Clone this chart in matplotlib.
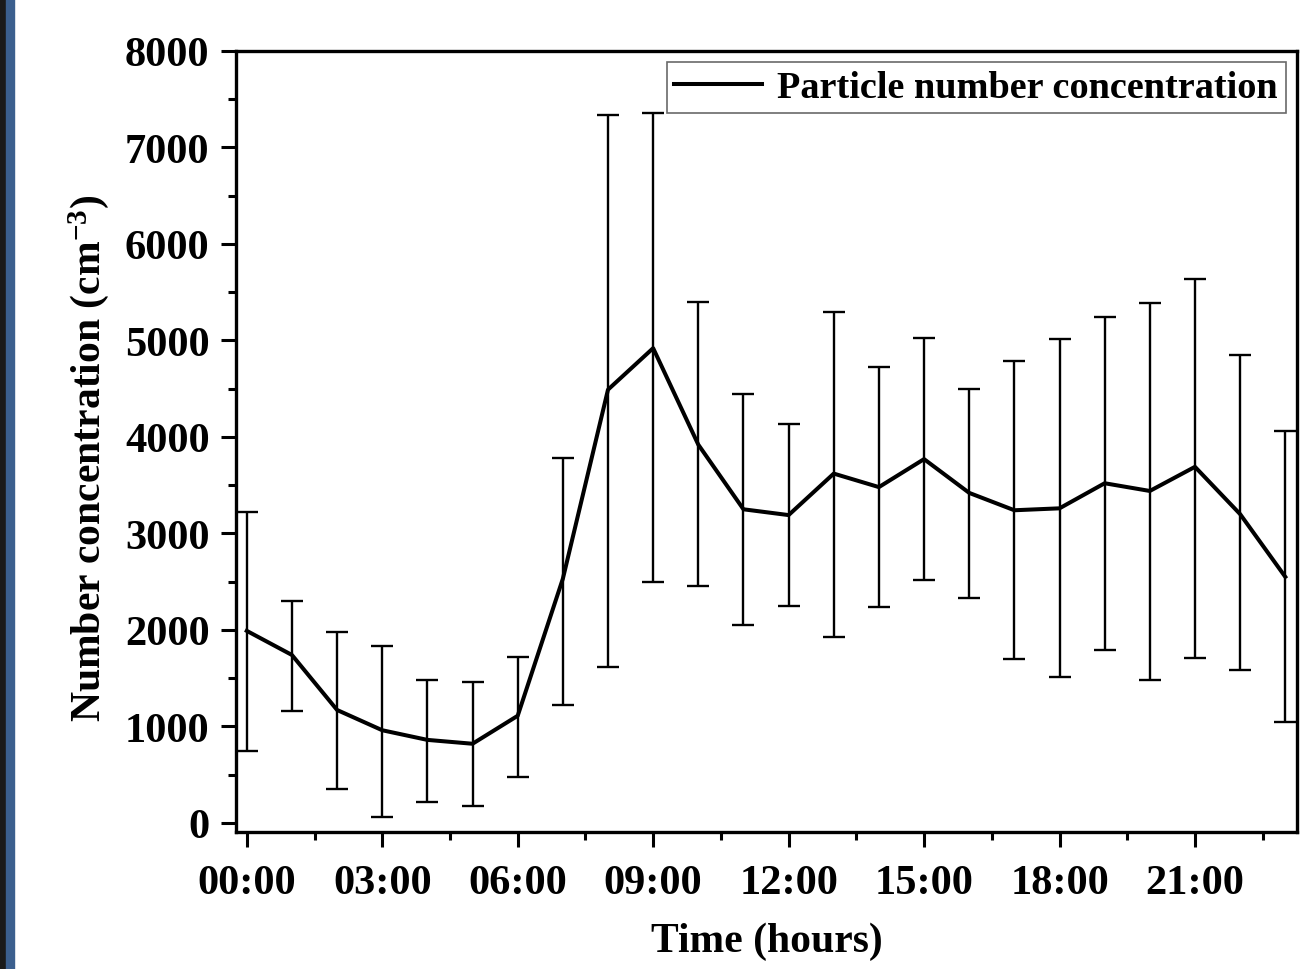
import matplotlib
matplotlib.use("Agg")
from matplotlib import pyplot as plt
from matplotlib.patches import Rectangle
from matplotlib.lines import Line2D
from matplotlib.ticker import MultipleLocator

import numpy as np

plt.rcParams['font.family'] = ['Liberation Serif', 'DejaVu Serif']
plt.rcParams['font.weight'] = 'bold'
plt.rcParams['mathtext.fontset'] = 'custom'
plt.rcParams['mathtext.default'] = 'bf'
plt.rcParams['mathtext.bf'] = 'Liberation Serif:bold'
plt.rcParams['mathtext.rm'] = 'Liberation Serif:bold'

# data (hourly means with lower / upper error bar ends)
hours = list(range(24))
mean = [1990, 1740, 1170, 960, 860, 820, 1110, 2530, 4490, 4920, 3920, 3250,
        3190, 3620, 3480, 3770, 3420, 3240, 3260, 3520, 3440, 3690, 3200, 2550]
upper = [3220, 2300, 1980, 1830, 1480, 1460, 1720, 3780, 7340, 7360, 5400, 4450,
         4130, 5300, 4720, 5030, 4500, 4790, 5010, 5240, 5390, 5640, 4850, 4060]
lower = [746, 1160, 350, 60, 220, 175, 480, 1220, 1620, 2500, 2450, 2050,
         2250, 1930, 2240, 2520, 2330, 1700, 1510, 1790, 1480, 1710, 1580, 1050]
xtick_pos = [0, 3, 6, 9, 12, 15, 18, 21]
xtick_labels = ['00:00', '03:00', '06:00', '09:00', '12:00', '15:00', '18:00', '21:00']

mean = np.array(mean)
yerr = np.vstack([mean - np.array(lower), np.array(upper) - mean])

fig = plt.figure(figsize=(13, 9.7), dpi=100)
ax = fig.add_axes([0.1815, 0.1412, 0.8162, 0.8052])

ax.errorbar(hours, mean, yerr=yerr, color='black', linewidth=2.9,
            elinewidth=1.7, capsize=8, capthick=1.7)

ax.set_xlim(-0.24, 23.26)
ax.set_ylim(-95, 8000)
ax.set_xticks(xtick_pos)
ax.set_xticklabels(xtick_labels)
ax.xaxis.set_minor_locator(MultipleLocator(1.5))
ax.yaxis.set_major_locator(MultipleLocator(1000))
ax.yaxis.set_minor_locator(MultipleLocator(500))

ax.tick_params(which='major', direction='out', length=11, width=2.2,
               labelsize=30.5)
ax.tick_params(axis='x', which='major', pad=12)
ax.tick_params(axis='y', which='major', pad=8)
ax.tick_params(which='minor', direction='out', length=6, width=2.2)
for s in ax.spines.values():
    s.set_linewidth(2.4)

ax.set_xlabel('Time (hours)', fontsize=30, fontweight='bold', labelpad=14)
ax.set_ylabel('Number concentration (cm$^{-3}$)', fontsize=30,
              fontweight='bold', labelpad=10)
ax.yaxis.label.set_y(0.48)

handle = Line2D([], [], color='black', linewidth=2.9)
leg = ax.legend([handle], ['Particle number concentration'], loc='upper right',
                frameon=True, fancybox=False, handlelength=2.3,
                handletextpad=0.4, borderpad=0.2, borderaxespad=0.3,
                prop={'weight': 'bold', 'size': 27.5})
leg.get_frame().set_edgecolor('#444444')
leg.get_frame().set_linewidth(1.2)

# dark side border of the screenshot
fig.patches.append(Rectangle((0, 0), 0.0045, 1, transform=fig.transFigure,
                             color='#1a1a1a', zorder=10))
fig.patches.append(Rectangle((0.0045, 0), 0.0065, 1, transform=fig.transFigure,
                             color='#3b5f8e', zorder=10))

fig.savefig('out.png', dpi=100)
